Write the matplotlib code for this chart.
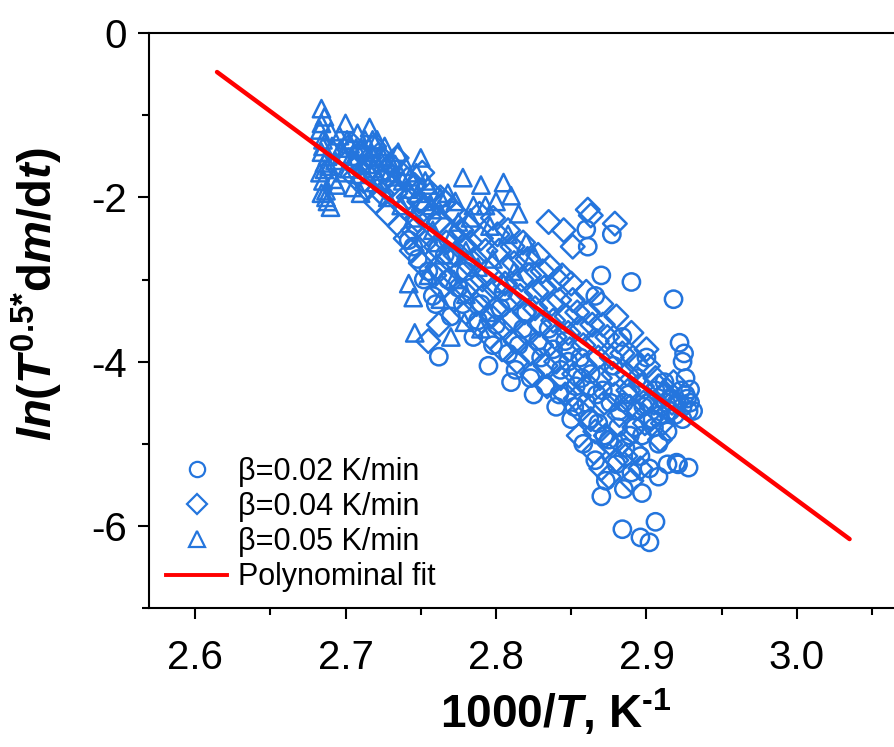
import numpy as np
import matplotlib.pyplot as plt
from matplotlib.ticker import MultipleLocator
from matplotlib.lines import Line2D

plt.rcParams['font.family'] = ['Liberation Sans', 'DejaVu Sans']
plt.rcParams['axes.unicode_minus'] = False
plt.rcParams['mathtext.fontset'] = 'custom'
plt.rcParams['mathtext.rm'] = 'Liberation Sans:bold'
plt.rcParams['mathtext.it'] = 'Liberation Sans:italic:bold'
plt.rcParams['mathtext.bf'] = 'Liberation Sans:bold'

# beta = 0.05 K/min (triangles)
x_05 = [2.684, 2.686, 2.683, 2.685, 2.684, 2.686, 2.683, 2.685, 2.687, 2.688, 2.690, 2.689, 2.691, 2.692,
        2.696, 2.698, 2.700, 2.702, 2.703, 2.705, 2.706, 2.708, 2.709, 2.710,
        2.712, 2.714, 2.716, 2.718, 2.720, 2.722, 2.724, 2.726, 2.728, 2.730,
        2.732, 2.735, 2.737, 2.740, 2.742, 2.745, 2.747, 2.750, 2.752, 2.755, 2.758,
        2.742, 2.745, 2.746, 2.755, 2.763, 2.770, 2.779, 2.780, 2.790, 2.795, 2.765, 2.772,
        2.762, 2.768, 2.775, 2.778, 2.785, 2.790, 2.796, 2.800, 2.805, 2.810, 2.815, 2.820, 2.808, 2.825,
        2.770, 2.780, 2.788, 2.798, 2.805, 2.812, 2.760,
        2.684, 2.685, 2.686, 2.684, 2.687, 2.688, 2.690, 2.693, 2.694, 2.697, 2.699, 2.701, 2.704,
        2.707, 2.711, 2.713, 2.717, 2.719, 2.721, 2.725, 2.729, 2.733, 2.738, 2.743, 2.748, 2.753,
        2.757, 2.763, 2.773, 2.783, 2.793]
y_05 = [-0.92, -1.02, -1.18, -1.30, -1.45, -1.58, -1.70, -1.80, -1.92, -2.05, -2.12, -1.62, -1.38, -1.78,
        -1.25, -1.48, -1.10, -1.65, -1.35, -1.88, -1.55, -1.22, -1.72, -1.95,
        -1.40, -1.60, -1.15, -1.30, -1.82, -1.50, -1.68, -1.38, -2.00, -1.58,
        -1.75, -1.45, -2.10, -1.62, -1.90, -2.25, -1.70, -1.52, -2.05, -1.85, -2.40,
        -3.05, -3.22, -3.65, -2.95, -3.24, -3.70, -3.52, -3.18, -3.60, -3.40, -2.70, -3.00,
        -2.15, -1.95, -2.30, -1.76, -2.10, -1.85, -2.35, -2.05, -1.82, -1.98, -2.20, -2.55, -2.45, -2.70,
        -2.50, -2.65, -2.85, -2.75, -3.05, -2.90, -2.55,
        -1.10, -1.38, -1.66, -1.95, -2.00, -1.50, -1.20, -1.55, -1.85, -1.40, -1.70, -1.30, -1.50,
        -1.40, -1.60, -1.30, -1.45, -1.65, -1.30, -1.52, -1.70, -1.60, -1.80, -1.75, -1.95, -1.80,
        -2.10, -2.00, -2.05, -2.25, -2.10]

# beta = 0.04 K/min (diamonds)
x_04 = [2.702, 2.706, 2.710, 2.714, 2.718, 2.720,
        2.722, 2.725, 2.728, 2.730, 2.733, 2.736, 2.738, 2.740,
        2.742, 2.744, 2.746, 2.748, 2.750, 2.752, 2.755, 2.757, 2.759, 2.760,
        2.762, 2.764, 2.766, 2.768, 2.770, 2.772, 2.774, 2.776, 2.778, 2.780,
        2.782, 2.784, 2.786, 2.788, 2.790, 2.792, 2.794, 2.796, 2.798, 2.800,
        2.802, 2.804, 2.806, 2.808, 2.810, 2.812, 2.814, 2.816, 2.818, 2.820,
        2.822, 2.824, 2.826, 2.828, 2.830, 2.832, 2.834, 2.836, 2.838, 2.840,
        2.842, 2.844, 2.846, 2.848, 2.850, 2.852, 2.854, 2.856, 2.858, 2.860,
        2.862, 2.864, 2.866, 2.868, 2.870, 2.872, 2.874, 2.876, 2.878, 2.880,
        2.882, 2.884, 2.886, 2.888, 2.890, 2.892, 2.894, 2.896, 2.898, 2.900,
        2.903, 2.906, 2.909, 2.912, 2.915, 2.918,
        2.861, 2.863, 2.879, 2.851, 2.845, 2.835,
        2.865, 2.870, 2.855, 2.875, 2.880, 2.890, 2.755, 2.762,
        2.704, 2.708, 2.712, 2.716, 2.719, 2.724, 2.727, 2.731, 2.734, 2.739, 2.741, 2.745, 2.749,
        2.751, 2.753, 2.756,
        2.761, 2.763, 2.767, 2.769, 2.771, 2.773, 2.777, 2.779, 2.781, 2.783, 2.787, 2.789, 2.791,
        2.793, 2.797, 2.799,
        2.801, 2.803, 2.807, 2.809, 2.811, 2.813, 2.817, 2.819, 2.821, 2.823, 2.827, 2.829, 2.831,
        2.833, 2.837, 2.839,
        2.841, 2.843, 2.847, 2.849, 2.851, 2.853, 2.857, 2.859, 2.861, 2.863, 2.867, 2.869, 2.871,
        2.873, 2.877, 2.879,
        2.881, 2.883, 2.887, 2.889, 2.891, 2.893, 2.897, 2.899, 2.901, 2.905, 2.908, 2.911, 2.914,
        2.917]
y_04 = [-1.55, -1.75, -1.45, -1.90, -1.62, -2.05,
        -1.48, -1.78, -2.20, -1.60, -1.95, -2.35, -1.72, -2.50,
        -2.00, -2.65, -1.85, -2.28, -2.80, -2.15, -2.45, -1.95, -2.95, -2.60,
        -2.30, -3.10, -2.05, -2.75, -2.45, -3.25, -2.20, -2.90, -2.60, -3.40,
        -2.35, -3.05, -2.75, -3.55, -2.50, -3.20, -2.90, -3.70, -2.25, -3.35,
        -2.65, -3.85, -3.05, -2.40, -3.50, -2.80, -4.00, -3.20, -2.55, -3.65,
        -2.95, -4.15, -3.35, -2.70, -3.80, -3.10, -4.30, -2.85, -3.50, -4.00,
        -3.25, -2.95, -4.40, -3.65, -3.05, -4.15, -3.40, -4.60, -3.80, -3.15,
        -4.30, -3.55, -4.85, -3.95, -3.30, -4.50, -3.70, -5.00, -4.15, -3.45,
        -4.65, -3.90, -5.15, -4.35, -3.65, -4.80, -4.05, -5.30, -4.50, -3.85,
        -4.70, -4.20, -4.95, -4.40, -4.60, -4.25,
        -2.15, -2.22, -2.32, -2.60, -2.40, -2.30,
        -5.10, -5.30, -4.90, -5.40, -5.20, -5.45, -3.75, -3.55,
        -1.35, -1.62, -1.80, -1.52, -1.38, -1.95, -1.66, -1.85, -1.52, -2.12, -1.78, -2.40, -2.05,
        -1.70, -2.55, -2.25,
        -2.85, -2.00, -2.55, -3.00, -2.15, -2.70, -2.40, -3.15, -2.80, -2.55, -3.30, -2.20, -3.00,
        -2.65, -3.45, -3.10,
        -2.45, -3.60, -2.85, -3.25, -2.60, -3.75, -3.00, -3.40, -2.75, -3.90, -3.15, -3.55, -2.90,
        -4.05, -3.30, -3.70,
        -3.00, -4.20, -3.45, -3.85, -3.25, -4.45, -3.60, -4.05, -3.40, -4.70, -3.75, -4.20, -3.55,
        -4.90, -3.95, -4.40,
        -3.75, -5.00, -4.15, -4.55, -3.95, -5.10, -4.30, -4.75, -4.05, -4.50, -4.30, -4.75, -4.35,
        -4.50]

# beta = 0.02 K/min (circles)
x_02 = [2.742, 2.748, 2.752, 2.758, 2.762, 2.766, 2.770, 2.775, 2.780, 2.785,
        2.790, 2.795, 2.800, 2.805, 2.810, 2.815, 2.820, 2.825, 2.830, 2.835,
        2.840, 2.843, 2.846, 2.850, 2.853, 2.856, 2.858, 2.860, 2.863, 2.866,
        2.866, 2.868, 2.870, 2.871, 2.873, 2.875, 2.877, 2.878, 2.880, 2.882,
        2.884, 2.886, 2.888, 2.890, 2.890, 2.892, 2.894, 2.896, 2.898, 2.900,
        2.902, 2.904, 2.906, 2.908, 2.910, 2.912, 2.914, 2.918, 2.917, 2.919,
        2.922, 2.921, 2.924, 2.923, 2.924, 2.925, 2.926, 2.928, 2.928, 2.929,
        2.920, 2.914, 2.931, 2.929,
        2.870, 2.884, 2.896, 2.902, 2.906, 2.885, 2.897, 2.908, 2.860, 2.861,
        2.745, 2.755, 2.760, 2.768, 2.778, 2.788, 2.798, 2.803, 2.808, 2.813, 2.818, 2.823, 2.828,
        2.833, 2.838, 2.842, 2.848, 2.852, 2.857, 2.862, 2.867, 2.872, 2.876, 2.881, 2.885, 2.889,
        2.893, 2.897, 2.901, 2.905, 2.909, 2.913, 2.916, 2.920, 2.924, 2.927, 2.926]
y_02 = [-2.52, -2.75, -3.00, -3.20, -3.94, -2.70, -3.45, -3.10, -2.90, -3.70,
        -3.30, -4.05, -3.55, -3.15, -4.25, -3.80, -3.40, -4.40, -3.95, -3.60,
        -4.55, -4.10, -3.75, -4.70, -4.30, -3.95, -5.00, -4.50, -4.15, -3.20,
        -5.20, -4.75, -2.95, -4.35, -5.45, -4.95, -2.45, -4.05, -5.25, -4.60,
        -3.70, -5.05, -4.40, -3.03, -5.35, -4.80, -4.20, -5.15, -4.55, -3.95,
        -5.30, -4.70, -4.35, -5.00, -4.55, -4.25, -4.85, -3.24, -4.45, -4.65,
        -3.77, -5.25, -4.00, -4.35, -4.55, -3.90, -4.40, -5.29, -4.60, -4.34,
        -5.23, -5.25, -4.60, -4.50,
        -5.64, -6.04, -6.14, -6.20, -5.95, -5.55, -5.60, -5.40, -2.39, -2.60,
        -2.60, -2.90, -3.30, -3.00, -3.30, -3.50, -3.80, -3.35, -3.90, -4.10, -3.60, -4.20, -3.75,
        -4.30, -3.85, -4.40, -4.00, -4.55, -4.20, -4.70, -4.40, -4.90, -4.50, -4.80, -4.50, -4.90,
        -4.60, -4.90, -4.50, -4.80, -4.65, -4.50, -4.60, -4.50, -4.70, -4.45, -4.20]

# polynominal fit end points
fit_x = [2.6146, 3.035]
fit_y = [-0.474, -6.16]

blue = '#2475dd'

fig = plt.figure(figsize=(8.94, 7.47), dpi=100)
ax = fig.add_axes([0.1667, 0.186, 0.893, 0.7697])

ax.scatter(x_02, y_02, marker='o', s=155, facecolors='none', edgecolors=blue, linewidths=1.8)
ax.scatter(x_04, y_04, marker='D', s=145, facecolors='none', edgecolors=blue, linewidths=1.8)
ax.scatter(x_05, y_05, marker='^', s=155, facecolors='none', edgecolors=blue, linewidths=1.8)
ax.plot(fit_x, fit_y, c='#ff0000', lw=3.2, solid_capstyle='round')

ax.set_xlim(2.5694, 3.10)
ax.set_ylim(-7, 0)
ax.xaxis.set_minor_locator(MultipleLocator(0.05))
ax.yaxis.set_major_locator(MultipleLocator(2))
ax.yaxis.set_minor_locator(MultipleLocator(1))
ax.set_xticks([2.6, 2.7, 2.8, 2.9, 3.0])
ax.set_xticklabels(['2.6', '2.7', '2.8', '2.9', '3.0'])

ax.spines['right'].set_visible(False)
for s in ['left', 'bottom', 'top']:
    ax.spines[s].set_linewidth(1.5)
ax.tick_params(which='major', direction='out', length=8, width=1.5, labelsize=29, pad=8)
ax.tick_params(axis='x', which='major', pad=14)
ax.tick_params(which='minor', direction='out', length=5, width=1.5)
ax.tick_params(top=False, right=False, which='both')

ax.set_xlabel(r'1000/$\mathit{T}$, K$^{\text{-1}}$', fontsize=33, fontweight='bold')
ax.xaxis.set_label_coords((556 - 149) / (0.893 * 894), -0.137)
ax.set_ylabel(r'$\mathit{ln}$($\mathit{T}^{\mathrm{0.5}{*}}$d$\mathit{m}$/d$\mathit{t}$)', fontsize=34,
              fontweight='bold')
ax.yaxis.set_label_coords(-0.105, 0.546)

handles = [
    Line2D([], [], ls='none', marker='o', mfc='none', mec=blue, ms=11, mew=1.6),
    Line2D([], [], ls='none', marker='D', mfc='none', mec=blue, ms=10, mew=1.6),
    Line2D([], [], ls='none', marker='^', mfc='none', mec=blue, ms=11, mew=1.6),
    Line2D([], [], c='#ff0000', lw=2.8),
]
labels = ['β=0.02 K/min', 'β=0.04 K/min', 'β=0.05 K/min', 'Polynominal fit']
ax.legend(handles, labels, loc='upper left', bbox_to_anchor=(0.172, 0.405), bbox_transform=fig.transFigure,
          frameon=False, fontsize=22, handlelength=2.0, handletextpad=0.35, labelspacing=0.17,
          borderaxespad=0.0)

fig.savefig('out.png', dpi=100)
